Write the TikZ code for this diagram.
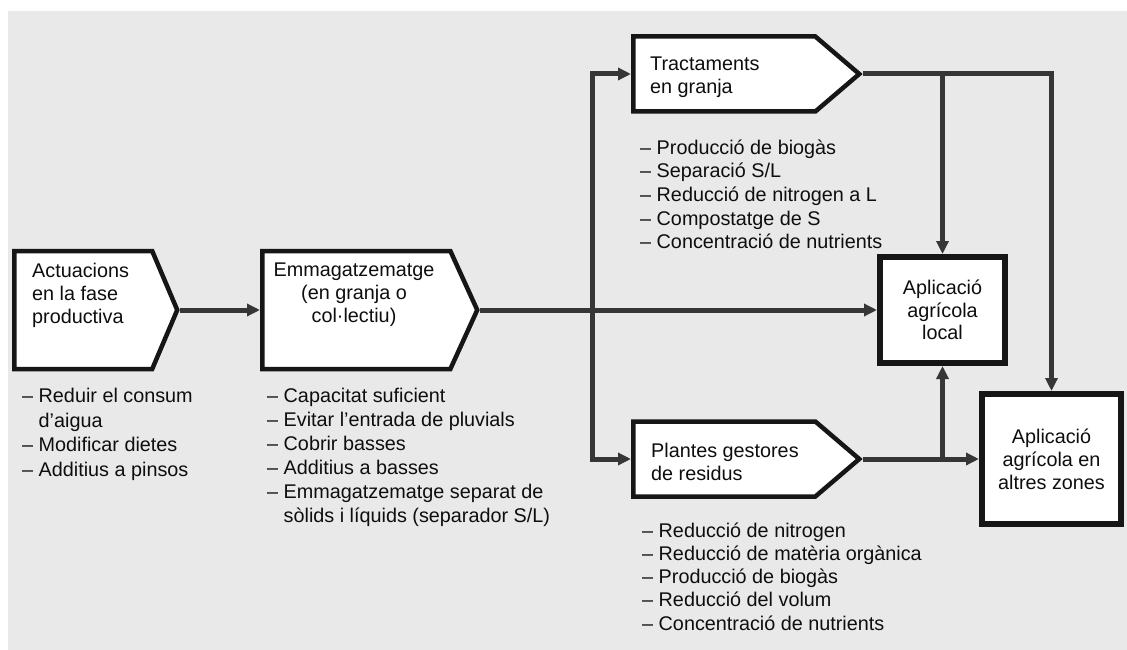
\documentclass[tikz,border=0pt]{standalone}
\usepackage{fontspec}
\setmainfont{Liberation Sans}
\usetikzlibrary{arrows.meta,positioning,calc,shapes.symbols}
\definecolor{bggray}{HTML}{E9E9E9}
\definecolor{linegray}{HTML}{363636}
\definecolor{boxline}{HTML}{161616}
\definecolor{inkgray}{HTML}{0E0E0E}

\tikzset{
  stagebox/.style={signal,signal to=east,draw=boxline,fill=white,line width=4.5pt,inner sep=0pt},
  endbox/.style={rectangle,draw=boxline,fill=white,line width=6pt,inner sep=0pt},
  flow/.style={draw=linegray,line width=5pt,-{Triangle[length=13pt,width=12pt]}},
  boxtext/.style={inner sep=0pt,text=inkgray,font=\fontsize{19.8}{23}\selectfont},
  listtext/.style={inner sep=0pt,align=left,anchor=north west,text=inkgray,font=\fontsize{19.8}{24}\selectfont},
}

\begin{document}
\begin{tikzpicture}[x=1pt,y=-1pt]
\useasboundingbox (0,0) rectangle (1127,650);
\fill[white] (0,0) rectangle (1127,650);
\fill[bggray] (8,11) rectangle (1127,650);

% stages
\node (act) [stagebox,minimum width=163,minimum height=118,signal pointer angle=134,anchor=west] at (12,310) {};
\node (emm) [stagebox,minimum width=215,minimum height=118,signal pointer angle=131,anchor=west] at (260,310) {};
\node (tract) [stagebox,minimum width=226,minimum height=75,signal pointer angle=81,anchor=west] at (631,74) {};
\node (plant) [stagebox,minimum width=226,minimum height=75,signal pointer angle=81,anchor=west] at (631,459) {};
\node (loc) [endbox,minimum width=125,minimum height=106] at (942.5,310) {};
\node (altr) [endbox,minimum width=139,minimum height=130] at (1051.5,459) {};

% box texts
\node (actT) [boxtext,align=left,anchor=north west] at ($(act.west |- act.north)+(20,14)$) {Actuacions\\en la fase\\productiva};
\node (emmT) [boxtext,align=center,anchor=north] at ($(emm.west |- emm.north)+(94,14)$) {Emmagatzematge\\(en granja o\\col·lectiu)};
\node (tractT) [boxtext,align=left,anchor=north west] at ($(tract.west |- tract.north)+(19,22.5)$) {Tractaments\\en granja};
\node (plantT) [boxtext,align=left,anchor=north west] at ($(plant.west |- plant.north)+(20,23.5)$) {Plantes gestores\\de residus};
\node (locT) [boxtext,align=center,font=\fontsize{19.8}{22.5}\selectfont] at (loc) {Aplicació\\agrícola\\local};
\node (altrT) [boxtext,align=center] at (altr) {Aplicació\\agrícola en\\altres zones};

% lists
\node (actL) [listtext,font=\fontsize{19.8}{24.5}\selectfont] at ($(act.west |- act.south)+(10,17)$)
  {– Reduir el consum\\\phantom{– }d'aigua\\– Modificar dietes\\– Additius a pinsos};
\node (emmL) [listtext] at ($(emm.west |- emm.south)+(7,17)$)
  {– Capacitat suficient\\– Evitar l'entrada de pluvials\\– Cobrir basses\\– Additius a basses\\– Emmagatzematge separat de\\\phantom{– }sòlids i líquids (separador S/L)};
\node (tractL) [listtext,font=\fontsize{19.8}{23.7}\selectfont] at ($(tract.west |- tract.south)+(9,25.5)$)
  {– Producció de biogàs\\– Separació S/L\\– Reducció de nitrogen a L\\– Compostatge de S\\– Concentració de nutrients};
\node (plantL) [listtext,font=\fontsize{19.8}{23.3}\selectfont] at ($(plant.west |- plant.south)+(11,23.5)$)
  {– Reducció de nitrogen\\– Reducció de matèria orgànica\\– Producció de biogàs\\– Reducció del volum\\– Concentració de nutrients};

% flows
\coordinate (fork) at (592,310);
\coordinate (tj) at (tract.east -| loc.north);
\coordinate (pj) at (plant.east -| loc.south);
\draw[flow] (act.east) -- (emm.west);
\draw[flow] (emm.east) -- (loc.west);
\draw[flow] (fork) |- (tract.west);
\draw[flow] (fork) |- (plant.west);
\draw[flow] (tract.east) -| (altr.north);
\draw[flow] (tj) -- (loc.north);
\draw[flow] (plant.east) -- (altr.west);
\draw[flow] (pj) -- (loc.south);
\end{tikzpicture}
\end{document}
